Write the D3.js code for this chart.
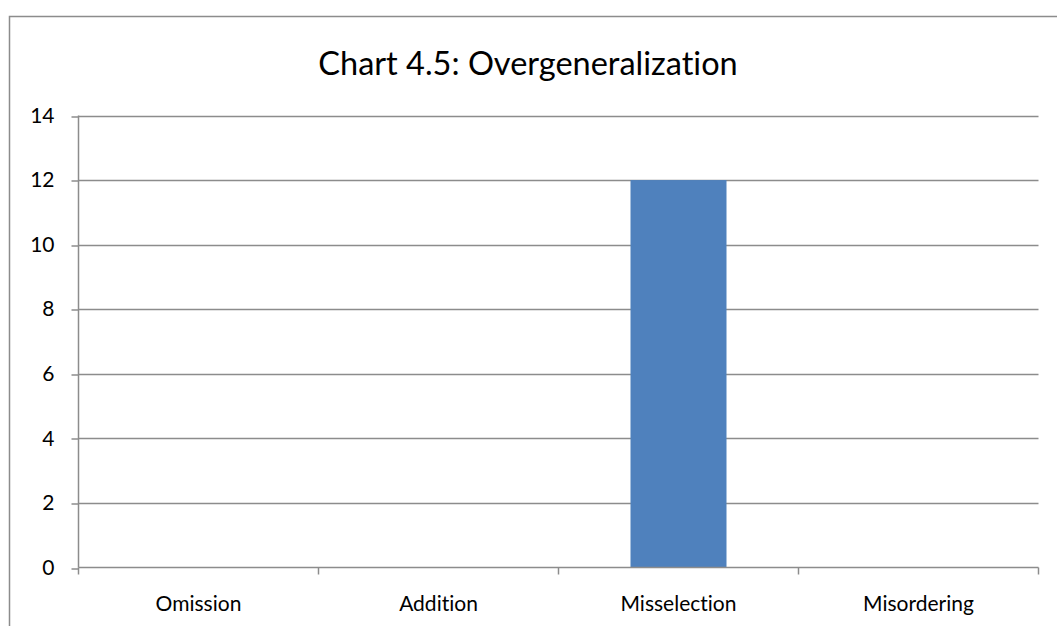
<!DOCTYPE html>
<html>
<head>
<meta charset="utf-8">
<script src="https://cdn.jsdelivr.net/npm/d3@7"></script>
<style>
  html, body { margin: 0; padding: 0; background: #fff; }
  svg { display: block; }
  text { font-family: Lato, "Open Sans", sans-serif; fill: #000; font-variant-ligatures: none; }
</style>
</head>
<body>
<svg id="chart" width="1057" height="626"></svg>
<script>
// Error counts by type
const categories = ["Omission", "Addition", "Misselection", "Misordering"];
const values = [0, 0, 12, 0];
const yTicks = [0, 2, 4, 6, 8, 10, 12, 14];
const title = "Chart 4.5: Overgeneralization";

const svg = d3.select("#chart");
const plot = { left: 78.5, right: 1038.5, top: 115.5, bottom: 567.5 };
const labelSize = 21;

// Outer chart frame
svg.append("rect")
  .attr("x", 9.5).attr("y", 16.5)
  .attr("width", 1100).attr("height", 700)
  .attr("fill", "#fff").attr("stroke", "#8c8c8c").attr("stroke-width", 1.5);

svg.append("text")
  .attr("x", 528).attr("y", 75)
  .attr("text-anchor", "middle")
  .attr("font-size", 32.5)
  .text(title);

const x = d3.scaleBand().domain(categories).range([plot.left, plot.right]).paddingInner(0).paddingOuter(0);
const y = d3.scaleLinear().domain([0, 14]).range([plot.bottom, plot.top]);

// Horizontal gridlines
svg.append("g").selectAll("line").data(yTicks.filter(d => d > 0)).join("line")
  .attr("x1", plot.left).attr("x2", plot.right)
  .attr("y1", d => Math.round(y(d)) + 0.5).attr("y2", d => Math.round(y(d)) + 0.5)
  .attr("stroke", "#8c8c8c").attr("stroke-width", 1.5);

// Bars
svg.append("g").selectAll("rect").data(categories).join("rect")
  .attr("x", d => x(d) + x.bandwidth() * 0.3)
  .attr("width", x.bandwidth() * 0.4)
  .attr("y", (d, i) => y(values[i]))
  .attr("height", (d, i) => y(0) - y(values[i]))
  .attr("fill", "#4f81bd");

// Y axis
const yAxis = d3.axisLeft(y).tickValues(yTicks).tickSize(7).tickPadding(17).tickFormat(d3.format("d"));
const gy = svg.append("g").attr("transform", `translate(${plot.left},0)`).call(yAxis);
gy.attr("font-size", labelSize).attr("font-family", null);
gy.selectAll(".tick line").attr("stroke", "#8c8c8c").attr("stroke-width", 1.5)
  .attr("transform", d => `translate(0,${Math.round(y(d)) + 0.5 - y(d)})`);
gy.selectAll(".tick text").attr("fill", "#000");
gy.select(".domain").attr("stroke", "#8c8c8c").attr("stroke-width", 1.5)
  .attr("d", `M0,${plot.top}V${plot.bottom}`);

// X axis with ticks on category boundaries
const gx = svg.append("g").attr("transform", `translate(0,${plot.bottom})`);
gx.append("line").attr("x1", plot.left).attr("x2", plot.right)
  .attr("stroke", "#8c8c8c").attr("stroke-width", 1.5);
const bounds = categories.map(c => x(c)).concat([x(categories[categories.length - 1]) + x.bandwidth()]);
gx.selectAll("line.tk").data(bounds).join("line").attr("class", "tk")
  .attr("x1", d => d).attr("x2", d => d).attr("y1", 0).attr("y2", 7)
  .attr("stroke", "#8c8c8c").attr("stroke-width", 1.5);
gx.selectAll("text").data(categories).join("text")
  .attr("x", d => x(d) + x.bandwidth() / 2)
  .attr("y", 43)
  .attr("text-anchor", "middle")
  .attr("font-size", labelSize)
  .text(d => d);
</script>
</body>
</html>
